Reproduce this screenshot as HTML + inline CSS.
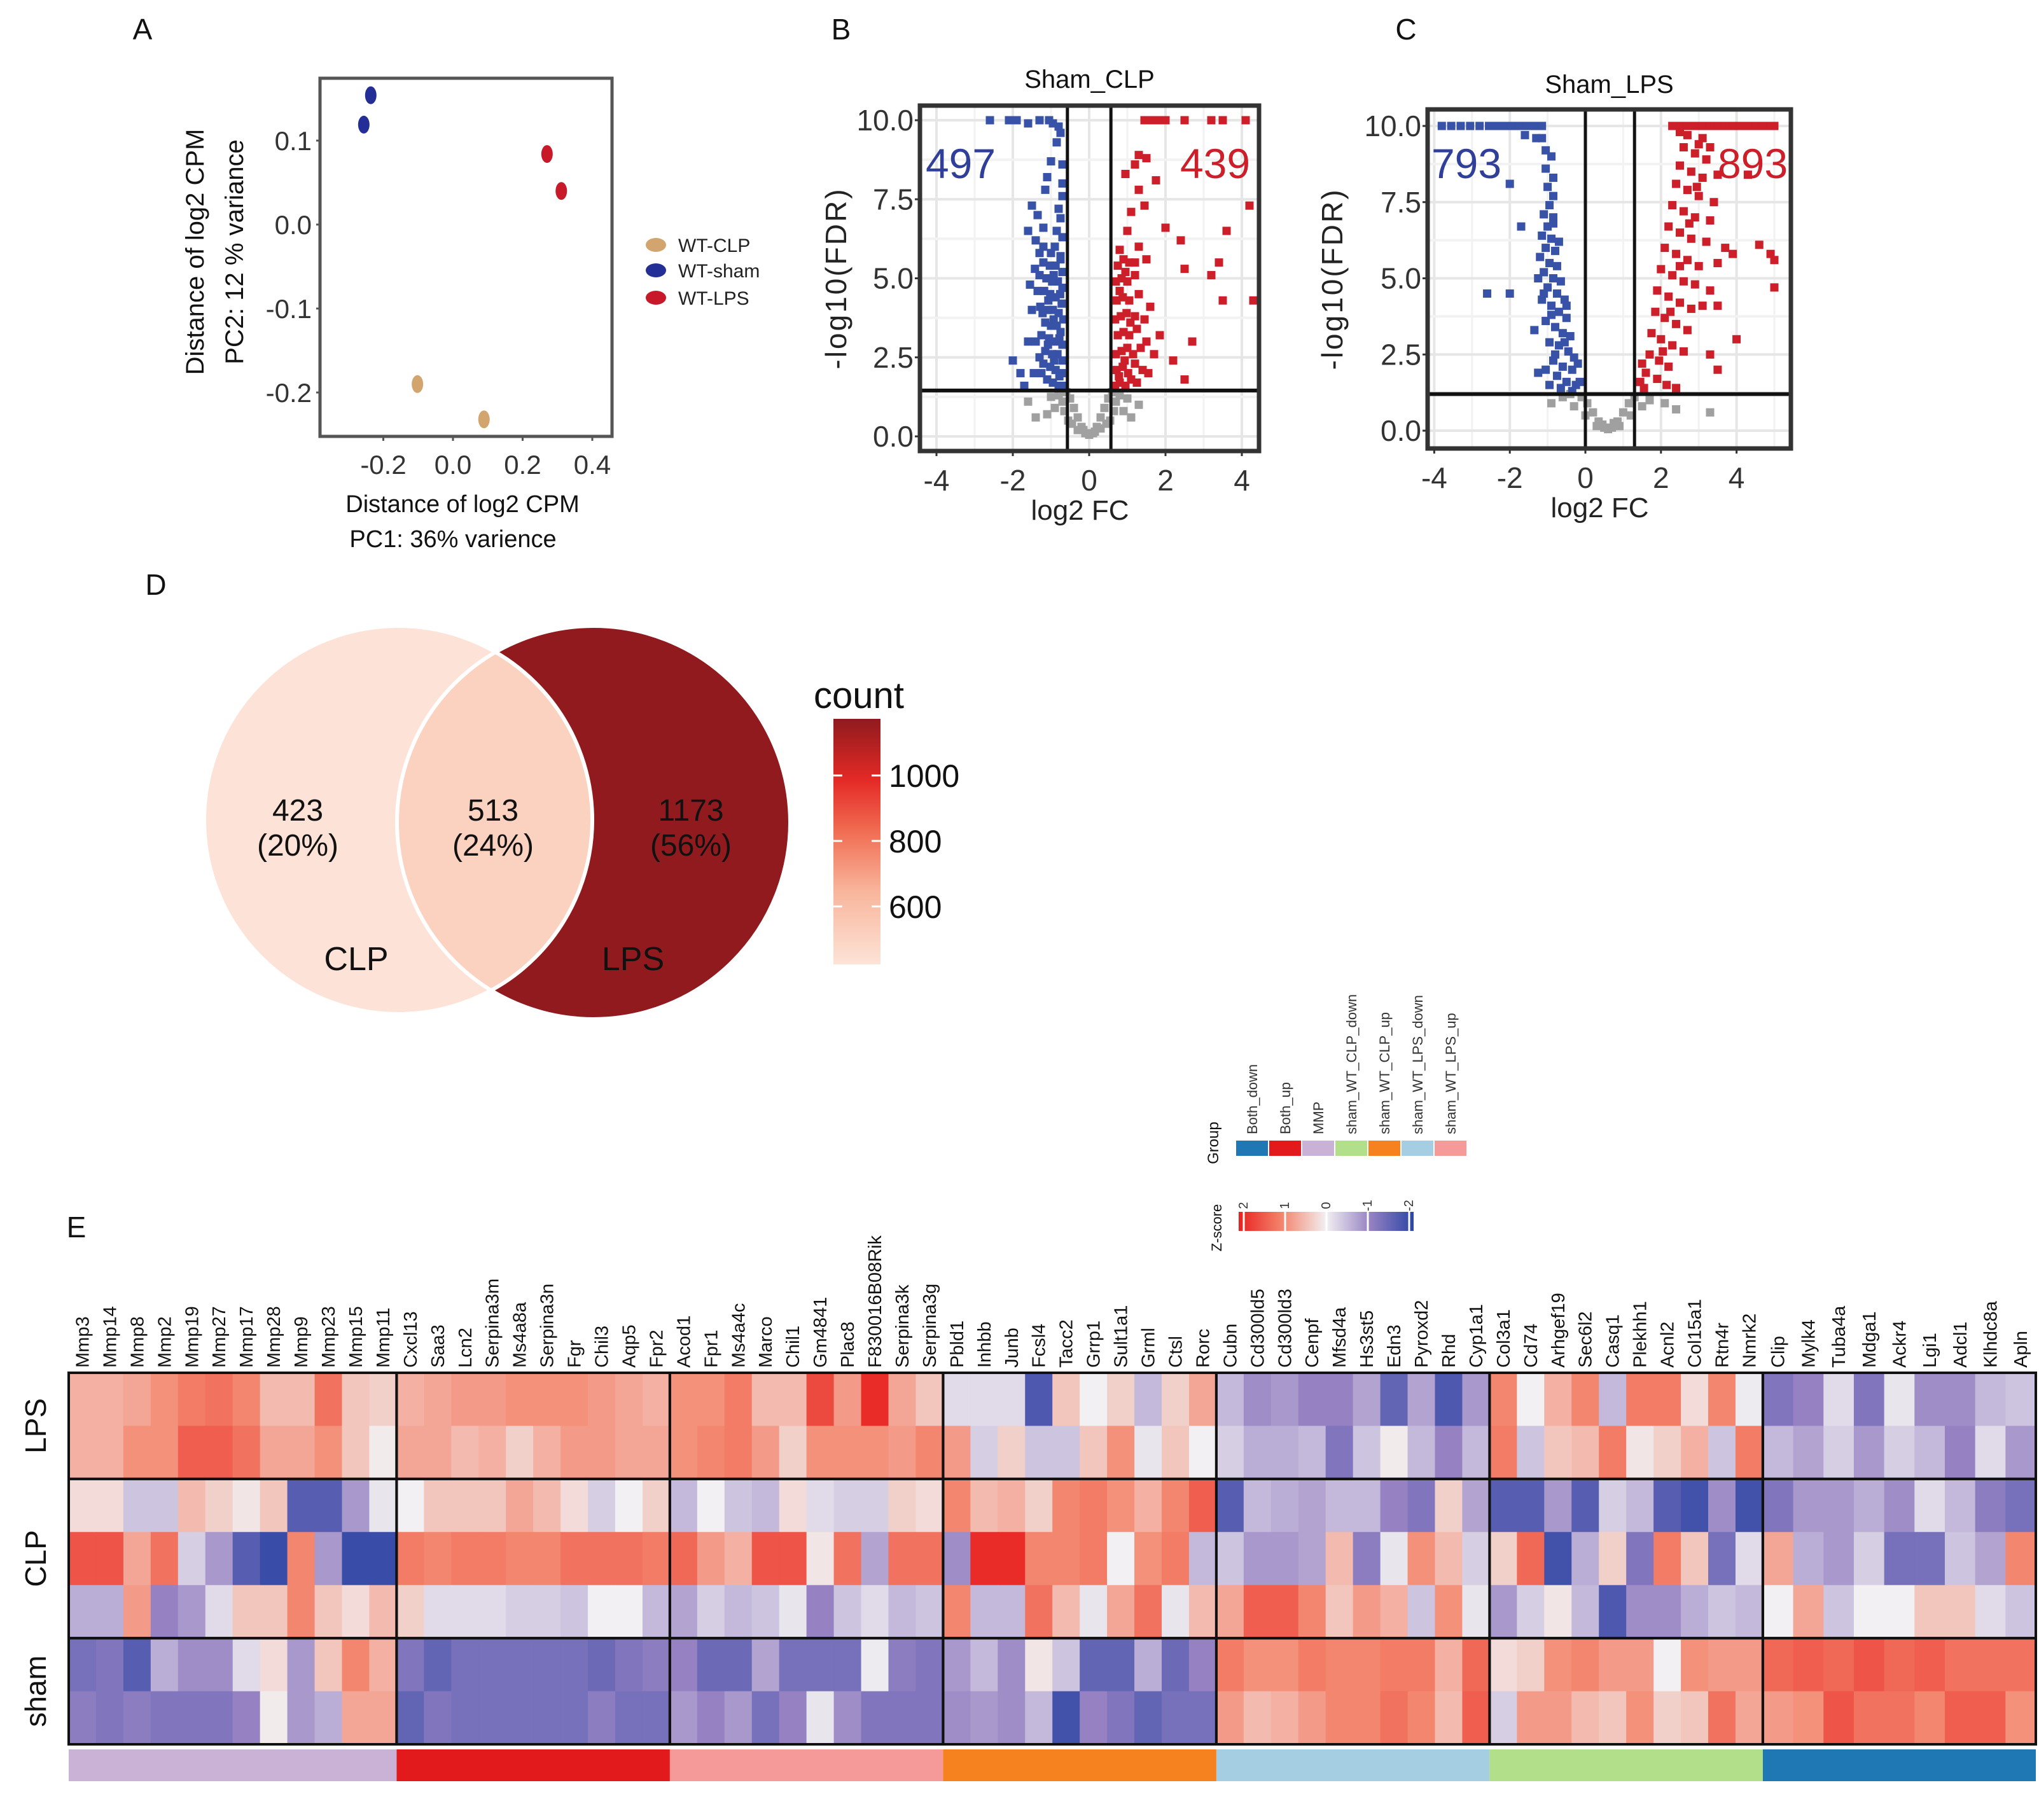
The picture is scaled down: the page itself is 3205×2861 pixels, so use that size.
<!DOCTYPE html>
<html><head><meta charset="utf-8"><style>
html,body{margin:0;padding:0;background:#fff;}
svg{display:block;font-family:"Liberation Sans",sans-serif;}
</style></head><body>
<svg id="fig" width="3205" height="2861" viewBox="0 0 3205 2861" xmlns="http://www.w3.org/2000/svg">
<defs>
<linearGradient id="countGrad" x1="0" y1="1" x2="0" y2="0">
<stop offset="0" stop-color="#fde3d7"/><stop offset="0.3" stop-color="#f8b59b"/><stop offset="0.55" stop-color="#f06a50"/><stop offset="0.75" stop-color="#e42a26"/><stop offset="1" stop-color="#901a1e"/>
</linearGradient>
<linearGradient id="zGrad" x1="0" y1="0" x2="1" y2="0">
<stop offset="0" stop-color="#e8221f"/><stop offset="0.25" stop-color="#f3866e"/><stop offset="0.5" stop-color="#f2f0f2"/><stop offset="0.75" stop-color="#9682c3"/><stop offset="1" stop-color="#2d46a5"/>
</linearGradient>
<clipPath id="clipLeft"><circle cx="626" cy="1289" r="305"/></clipPath>
</defs>
<g id="root"></g>
</svg>
<script>
// ---------- Panel A data ----------
const pcaGroups = ["WT-CLP","WT-sham","WT-LPS"];
const pcaColors = ["#d2a56e","#232e96","#c8192a"];
const pcaPC1 = [-0.102, 0.089, -0.236, -0.256, 0.270, 0.311];
const pcaPC2 = [-0.190, -0.232, 0.154, 0.119, 0.084, 0.040];
const pcaGroupOf = [0,0,1,1,2,2];
const pcaXTicks = [-0.2, 0.0, 0.2, 0.4];
const pcaYTicks = [0.1, 0.0, -0.1, -0.2];

// ---------- Panel B data ----------
const volBDown = [[-2.6,10],[-2.1,10],[-1.9,10],[-1.6,9.9],[-1.3,10],[-1.05,10],[-0.95,9.9],[-0.8,9.8],[-0.75,9.6],[-0.85,9.3],
[-1.0,8.7],[-0.7,8.6],[-1.1,8.2],[-0.7,8.0],[-1.15,7.8],[-0.7,7.6],[-1.5,7.3],[-0.8,7.2],[-1.35,7.0],[-0.75,6.9],[-1.6,6.5],[-1.2,6.6],[-0.85,6.5],[-0.7,6.3],[-1.4,6.2],[-1.2,6.0],[-0.9,6.0],[-1.3,5.8],[-1.0,5.8],[-0.75,5.7],
[-0.68,1.6],[-0.8,1.6],[-0.95,1.7],[-1.1,1.8],[-0.72,2.0],[-0.88,2.1],[-1.02,2.2],[-1.2,2.3],[-0.7,2.4],[-0.83,2.6],[-0.97,2.6],[-1.15,2.7],[-1.3,2.5],[-0.7,2.9],[-0.9,3.0],[-1.05,3.1],[-1.25,3.2],[-0.75,3.3],[-0.85,3.5],[-1.0,3.5],[-1.15,3.6],[-0.68,3.7],[-0.8,3.9],[-0.95,4.0],[-1.1,4.0],[-1.28,4.1],[-0.72,4.2],[-0.88,4.4],[-1.02,4.5],[-1.18,4.6],[-0.7,4.7],[-0.82,4.9],[-0.97,4.9],[-1.12,5.0],[-1.3,5.1],[-0.7,5.2],[-0.88,5.4],[-1.03,5.4],[-1.2,5.5],[-0.75,5.6],[-1.4,3.0],[-1.45,2.0],[-1.5,4.0],[-1.42,5.3],[-0.78,1.9],[-0.92,2.4],[-1.08,2.9],[-0.78,3.1],[-0.93,3.7],[-1.07,4.3],[-0.76,4.5],[-0.93,5.1],[-1.22,3.9],[-1.35,4.6],[-1.25,2.0],
[-2.0,2.4],[-1.8,2.0],[-1.7,1.6],[-1.6,3.0],[-1.55,4.8]];
const volBUp = [[1.45,10],[1.6,10],[1.75,10],[1.9,10],[2.0,10],[2.5,10],[3.2,10],[3.5,10],[4.1,10],
[1.3,8.9],[1.5,8.8],[1.2,8.6],[0.95,8.3],[1.75,8.1],[1.3,7.8],[1.45,7.3],[1.1,7.1],[4.2,7.3],[1.0,6.5],[2.0,6.6],[3.6,6.5],[2.4,6.2],[1.3,6.0],[0.8,5.9],[1.5,5.6],[3.4,5.5],[2.5,5.3],[3.2,5.1],[1.2,5.5],[3.5,4.3],[4.3,4.3],[2.7,3.0],[2.2,2.4],[2.5,1.8],
[0.68,1.6],[0.8,1.7],[0.95,1.6],[1.1,1.8],[1.25,1.7],[0.72,2.1],[0.88,2.2],[1.02,2.0],[1.2,2.3],[1.4,2.1],[0.7,2.6],[0.85,2.7],[1.0,2.8],[1.15,2.6],[1.35,2.8],[0.75,3.2],[0.9,3.3],[1.05,3.2],[1.25,3.4],[1.5,3.0],[0.68,3.7],[0.83,3.8],[0.98,3.9],[1.2,3.8],[1.45,3.7],[0.72,4.3],[0.88,4.4],[1.05,4.3],[1.3,4.5],[0.7,4.9],[0.85,5.0],[1.0,4.9],[1.2,5.1],[0.75,5.4],[0.9,5.6],[1.05,5.5],[1.6,4.1],[1.7,2.6],[1.55,2.0],[1.85,3.2],[0.78,1.9],[0.93,2.4],[1.08,3.6],[0.8,4.6],[0.95,5.2]];
const volBNs = [[-0.1,0.1],[0,0.05],[0.1,0.1],[-0.2,0.3],[0.2,0.3],[-0.3,0.6],[0.3,0.6],[-0.4,0.9],[0.4,0.9],[-0.5,1.2],[0.5,1.2],[-0.6,1.4],[0.6,1.4],[-0.7,1.1],[0.7,1.1],[-0.9,0.9],[0.9,0.8],[-1.1,0.7],[1.1,0.6],[-1.4,0.6],[-0.3,0.2],[0.3,0.25],[-0.55,0.5],[0.55,0.5],[-0.8,1.3],[0.8,1.3],[-1.0,1.25],[1.0,1.2],[-0.15,0.2],[0.15,0.15],[-1.6,1.1],[1.3,1.0],[-0.45,0.4],[0.45,0.4],[-0.65,0.8],[0.65,0.8]];
const volBXTicks = [-4,-2,0,2,4];
const volBYTicks = [0,2.5,5,7.5,10];
const volBCut = {fcLow:-0.57, fcHigh:0.57, fdr:1.45};

// ---------- Panel C data ----------
const volCDown = [[-3.8,10],[-3.55,10],[-3.3,10],[-3.05,10],[-2.8,10],[-2.55,10],[-2.35,10],[-2.15,10],[-1.95,10],[-1.75,10],[-1.55,10],[-1.35,10],[-1.15,10],[-1.6,9.7],[-1.3,9.6],[-1.15,9.6],
[-1.05,9.2],[-0.9,9.0],[-1.05,8.6],[-0.85,8.3],[-1.0,8.0],[-0.85,7.7],[-0.95,7.4],[-1.1,7.1],[-0.85,7.0],[-1.0,6.7],[-1.15,6.4],[-0.9,6.3],[-1.05,6.0],[-0.8,5.9],[-1.2,5.7],[-0.95,5.5],[-0.75,5.4],[-1.1,5.2],[-0.85,5.0],[-0.65,4.9],[-1.0,4.7],[-0.75,4.5],[-1.15,4.3],[-0.55,4.3],[-0.9,4.1],[-0.7,3.9],[-0.5,3.7],[-1.05,3.6],[-0.8,3.4],[-0.6,3.2],[-0.4,3.1],[-0.95,2.9],[-0.7,2.8],[-0.45,2.6],[-0.3,2.4],[-0.85,2.3],[-0.6,2.1],[-0.35,2.0],[-1.05,2.0],[-0.75,1.8],[-0.5,1.6],[-0.25,1.5],[-0.95,1.5],[-0.65,1.4],[-0.35,1.3],[-0.9,3.8],[-0.55,2.9],[-0.8,2.5],[-0.5,4.1],[-1.1,4.5],[-0.7,6.2],[-0.85,6.8],[-1.25,5.0],[-0.15,1.6],[-0.2,2.2],
[-2.0,8.1],[-1.7,6.7],[-2.6,4.5],[-2.0,4.5],[-1.35,3.3],[-1.25,1.9]];
const volCUp = [[2.3,10],[2.5,10],[2.7,10],[2.9,10],[3.1,10],[3.3,10],[3.5,10],[3.7,10],[3.9,10],[4.1,10],[4.3,10],[4.5,10],[4.7,10],[4.9,10],[5.0,10],[2.5,9.8],[2.7,9.7],[3.1,9.6],
[2.6,9.3],[2.9,9.1],[3.2,8.9],[2.5,8.7],[2.8,8.5],[3.1,8.3],[3.5,8.4],[2.4,8.1],[2.7,7.9],[3.0,7.7],[3.4,7.5],[2.3,7.4],[2.6,7.2],[2.9,7.0],[3.3,6.9],[2.2,6.7],[2.5,6.5],[2.8,6.3],[3.2,6.2],[3.7,6.0],[2.1,6.0],[2.4,5.8],[2.7,5.6],[3.0,5.4],[3.5,5.5],[2.0,5.3],[2.3,5.1],[2.6,4.9],[2.9,4.8],[3.3,4.6],[1.9,4.6],[2.2,4.4],[2.5,4.2],[2.8,4.0],[3.1,4.1],[1.85,3.9],[2.1,3.7],[2.4,3.5],[2.7,3.3],[1.75,3.2],[2.0,3.0],[2.3,2.8],[2.6,2.6],[1.7,2.5],[1.95,2.3],[2.2,2.1],[1.6,1.9],[1.9,1.7],[2.15,1.5],[1.55,1.4],[2.4,1.4],[2.05,2.6],[2.25,3.9],[2.5,5.4],[2.75,6.8],[2.95,8.0],[1.45,1.6],[1.5,2.2],
[3.9,5.8],[4.3,8.4],[4.6,6.1],[4.9,5.8],[5.0,5.6],[5.0,4.7],[3.5,4.1],[4.0,3.0],[3.3,2.5],[3.5,2.0],[3.0,9.4],[3.3,9.3]];
const volCNs = [[0.5,0.1],[0.6,0.05],[0.7,0.1],[0.35,0.3],[0.85,0.3],[0.2,0.6],[1.0,0.6],[0.05,0.9],[1.15,0.9],[-0.1,1.1],[1.3,1.1],[-0.3,0.8],[1.5,0.8],[-0.6,1.1],[1.7,1.0],[0.3,0.15],[0.9,0.15],[0.0,0.5],[1.2,0.5],[-0.4,1.2],[2.1,0.9],[2.4,0.7],[-0.9,0.9],[0.75,0.25],[0.45,0.2],[3.3,0.6]];
const volCXTicks = [-4,-2,0,2,4];
const volCYTicks = [0,2.5,5,7.5,10];
const volCCut = {fcLow:0, fcHigh:1.3, fdr:1.2};

// ---------- Panel D data ----------
const vennNames = ["CLP","LPS"];
const vennCounts = [423, 513, 1173];
const vennPercents = ["(20%)","(24%)","(56%)"];
const countTicks = [600, 800, 1000];

// ---------- Panel E data ----------
const genes = ["Mmp3","Mmp14","Mmp8","Mmp2","Mmp19","Mmp27","Mmp17","Mmp28","Mmp9","Mmp23","Mmp15","Mmp11",
"Cxcl13","Saa3","Lcn2","Serpina3m","Ms4a8a","Serpina3n","Fgr","Chil3","Aqp5","Fpr2",
"Acod1","Fpr1","Ms4a4c","Marco","Chil1","Gm4841","Plac8","F830016B08Rik","Serpina3k","Serpina3g",
"Pbld1","Inhbb","Junb","Fcsl4","Tacc2","Grrp1","Sult1a1","Grml","Ctsl","Rorc",
"Cubn","Cd300ld5","Cd300ld3","Cenpf","Mfsd4a","Hs3st5","Edn3","Pyroxd2","Rhd","Cyp1a1",
"Col3a1","Cd74","Arhgef19","Sec6l2","Casq1","Plekhh1","Acnl2","Col15a1","Rtn4r","Nmrk2",
"Clip","Mylk4","Tuba4a","Mdga1","Ackr4","Lgi1","Adcl1","Klhdc8a","Apln"];
const geneGroupNames = ["MMP","Both_up","sham_WT_LPS_up","sham_WT_CLP_up","sham_WT_LPS_down","sham_WT_CLP_down","Both_down"];
const geneGroupSizes = [12,10,10,10,10,10,9];
const sampleGroups = ["LPS","CLP","sham"];
const sampleGroupSizes = [2,3,2];
const rowLPS1 = [.6,.6,.7,.9,1.1,1.2,1.0,.5,.5,1.2,.4,.3, .6,.7,.8,.8,.9,.9,.9,.8,.7,.6, .9,.9,1.1,.5,.5,1.6,.8,1.9,.7,.4, -.2,-.2,-.2,-1.7,.4,0,.3,-.5,.3,.7, -.5,-.9,-.8,-1,-1,-.7,-1.5,-.7,-1.7,-.8, 1,0,.6,1,-.5,1.1,1.1,.2,1,-.05, -1.2,-1,-.2,-1.2,-.1,-.9,-.9,-.5,-.4];
const rowLPS2 = [.6,.6,.9,.9,1.4,1.4,1.2,.7,.7,.9,.4,.05, .7,.7,.5,.6,.3,.6,.8,.8,.7,.7, .9,1,1.1,.8,.3,.9,.9,.9,.8,1.0, .8,-.3,.3,-.4,-.4,.4,.9,-.1,.4,0, -.3,-.6,-.6,-.5,-1.2,-.4,.05,-.5,-1,-.5, 1.1,-.4,.4,.5,1.1,.1,.3,.6,-.4,1.1, -.5,-.7,-.3,-.8,-.3,-.5,-1,-.2,-.8];
const rowCLP1 = [.2,.2,-.4,-.4,.5,.3,.1,.4,-1.6,-1.6,-.8,-.1, 0,.4,.4,.4,.7,.5,.2,-.3,0,.3, -.5,0,-.4,-.5,.2,-.2,-.3,-.3,.3,.2, 1.0,.5,.6,.3,1,1.1,.9,.6,1,1.4, -1.6,-.5,-.6,-.7,-.5,-.5,-1,-1.2,.3,-.7, -1.6,-1.6,-.8,-1.6,-.3,-.5,-1.6,-1.8,-.9,-1.8, -1.2,-.8,-.8,-.6,-.9,-.2,-.5,-1.1,-1.3];
const rowCLP2 = [1.5,1.5,.7,1.2,-.3,-.8,-1.6,-1.9,1.0,-.8,-1.9,-1.9, 1.1,1,1.1,1.1,1,1,1.2,1.2,1.2,1.1, 1.3,.8,.6,1.5,1.5,.1,1.2,-.7,1.2,1.2, -.9,1.9,1.9,1,1,1.1,0,.9,1.1,-.5, -.4,-.8,-.8,-.7,.5,-1.1,-.1,.9,.5,-.3, .3,1.3,-1.8,-.6,.3,-1.2,1.1,.4,-1.3,-.2, .7,-.6,-.8,-.3,-1.3,-1.3,-.4,-.7,1];
const rowCLP3 = [-.6,-.6,.8,-1,-.8,-.2,.4,.4,1,.4,.2,.5, .3,-.2,-.2,-.2,-.3,-.3,-.4,0,0,-.5, -.7,-.3,-.5,-.4,-.1,-1,-.4,-.2,-.5,-.4, 1.0,-.5,-.5,1.2,.5,-.1,.7,1.2,-.1,.5, .7,1.4,1.4,1,.4,.8,.6,-.4,.9,-.1, -.8,-.3,.1,-.5,-1.7,-.9,-.9,-.6,-.4,-.5, 0,.7,-.4,0,0,.4,.4,-.2,-.4];
const rowSham1 = [-1.3,-1.2,-1.6,-.6,-.9,-.9,-.2,.2,-.8,.4,1.0,.6, -1.2,-1.5,-1.3,-1.3,-1.3,-1.3,-1.3,-1.4,-1.2,-1.1, -1,-1.4,-1.4,-.7,-1.3,-1.3,-1.3,-.05,-1.1,-1.2, -.8,-.5,-.9,.1,-.4,-1.5,-1.5,-.6,-1.4,-1, 1.1,.9,.9,1.1,1,1,1.1,1.1,.6,1.3, .2,.3,.9,1,.8,.8,0,.9,.8,.8, 1.3,1.4,1.3,1.5,1.3,1.4,1.2,1.2,1.2];
const rowSham2 = [-1.1,-1.2,-1.1,-1.2,-1.2,-1.2,-1,.05,-.8,-.6,.7,.7, -1.5,-1.2,-1.3,-1.3,-1.3,-1.3,-1.3,-1.1,-1.3,-1.3, -.8,-1,-.8,-1.3,-1,-.1,-.9,-1.2,-1.2,-1.2, -.9,-.8,-.9,-.5,-1.8,-1,-1.2,-1.5,-1.3,-1.3, .8,.5,.6,.8,1,1,1.2,1,.5,1.4, -.3,.8,.8,.5,.4,.9,.3,.4,1.2,.7, .8,.9,1.5,1.2,1.2,1,1.4,1.4,.9];
const legendGroups = ["Both_down","Both_up","MMP","sham_WT_CLP_down","sham_WT_CLP_up","sham_WT_LPS_down","sham_WT_LPS_up"];
const zTicks = ["2","1","0","-1","-2"];

// ---------- drawing ----------
const NS = "http://www.w3.org/2000/svg";
const root = document.getElementById('root');
function mk(tag, attrs, parent, text){
  const e = document.createElementNS(NS, tag);
  for (const k in attrs) e.setAttribute(k, attrs[k]);
  if (text !== undefined) e.textContent = text;
  (parent||root).appendChild(e);
  return e;
}
function grp(name){ const g = mk('g', {});   return g; }
function label(txt, x, y, size, name, opts, parent){
  const a = Object.assign({x:x, y:y, 'font-size':size, fill:'#111'}, opts||{});
  const t = mk('text', a, parent, txt);
  
  
  return t;
}
const groupColor = {"Both_down":"#1f78b4","Both_up":"#e31a1c","MMP":"#cab2d6","sham_WT_CLP_down":"#b2df8a","sham_WT_CLP_up":"#f5821f","sham_WT_LPS_down":"#a6cee3","sham_WT_LPS_up":"#f59a99"};

// panel letters
[["A",224,62],["B",1322,62],["C",2210,62],["D",245,935],["E",120,1945]].forEach(p=>{
  label(p[0], p[1], p[2], 46, 'panel-letter-'+p[0].toLowerCase(), {'text-anchor':'middle'});
});

// ===== Panel A =====
(function(){
  const g = grp('pca-plot');
  const ax = x => 712 + x*547.5, ay = y => 353 - y*1320;
  const fr = mk('rect',{x:503,y:123,width:459,height:563,fill:'#fff',stroke:'#555','stroke-width':5}, g);
   
  pcaYTicks.forEach(v=>{
    mk('line',{x1:497,x2:503,y1:ay(v),y2:ay(v),stroke:'#555','stroke-width':3},g);
    label(v.toFixed(1), 490, ay(v)+15, 42, 'pca-y-tick', {'text-anchor':'end',fill:'#333'}, g);
  });
  pcaXTicks.forEach(v=>{
    mk('line',{x1:ax(v),x2:ax(v),y1:686,y2:693,stroke:'#555','stroke-width':3},g);
    label(v.toFixed(1), ax(v), 745, 42, 'pca-x-tick', {'text-anchor':'middle',fill:'#333'}, g);
  });
  for (let i=0;i<pcaPC1.length;i++){
    const e = mk('ellipse',{cx:ax(pcaPC1[i]),cy:ay(pcaPC2[i]),rx:9,ry:14,fill:pcaColors[pcaGroupOf[i]]},g);
     
  }
  label('Distance of log2 CPM', 0, 0, 40, 'pca-y-title', {'text-anchor':'middle',transform:'translate(320,396) rotate(-90)'}, g);
  label('PC2:  12 % variance', 0, 0, 40, 'pca-y-subtitle', {'text-anchor':'middle',transform:'translate(382,396) rotate(-90)'}, g);
  label('Distance of log2 CPM', 727, 805, 38, 'pca-x-title', {'text-anchor':'middle'}, g);
  label('PC1: 36% varience', 712, 860, 38, 'pca-x-subtitle', {'text-anchor':'middle'}, g);
  const lg = grp('pca-legend');
  const ly = [385,425,468];
  pcaGroups.forEach((n,i)=>{
    const d = mk('ellipse',{cx:1031,cy:ly[i],rx:16,ry:11,fill:pcaColors[i]},lg);
     
    label(n, 1066, ly[i]+11, 30, 'pca-legend-entry', {fill:'#222'}, lg);
  });
})();

// ===== Volcano =====
function volcano(cfg){
  const g = grp(cfg.name);
  const sx = x => cfg.x0 + x*cfg.xs, sy = y => cfg.y0 - y*cfg.ys;
  const b = cfg.box;
  const bg = mk('rect',{x:b[0],y:b[1],width:b[2]-b[0],height:b[3]-b[1],fill:'#fff'},g);
   
  for (let v=-5; v<=5; v+=1){
    const X = sx(v); if (X<=b[0]||X>=b[2]) continue;
    mk('line',{x1:X,x2:X,y1:b[1],y2:b[3],stroke:v%2===0?'#e6e6e6':'#f2f2f2','stroke-width':v%2===0?4:3},g);
  }
  for (let v=-1.25; v<=11; v+=1.25){
    const Y = sy(v); if (Y<=b[1]||Y>=b[3]) continue;
    mk('line',{x1:b[0],x2:b[2],y1:Y,y2:Y,stroke:(Math.round(v/1.25)%2===0)?'#e6e6e6':'#f2f2f2','stroke-width':4},g);
  }
  const sz = 13;
  function pts(arr, col, nm){
    arr.forEach(p=>{
      const r = mk('rect',{x:sx(p[0])-sz/2,y:sy(p[1])-sz/2,width:sz,height:sz,fill:col},g);
       
    });
  }
  pts(cfg.ns, '#a0a0a0', cfg.name+'-ns-point');
  pts(cfg.down, '#3752a6', cfg.name+'-down-point');
  pts(cfg.up, '#cc1f2a', cfg.name+'-up-point');
  [cfg.cut.fcLow, cfg.cut.fcHigh].forEach(v=>{
    const l = mk('line',{x1:sx(v),x2:sx(v),y1:b[1],y2:b[3],stroke:'#111','stroke-width':5},g);
     
  });
  const hl = mk('line',{x1:b[0],x2:b[2],y1:sy(cfg.cut.fdr),y2:sy(cfg.cut.fdr),stroke:'#111','stroke-width':6},g);
   
  const fr = mk('rect',{x:b[0],y:b[1],width:b[2]-b[0],height:b[3]-b[1],fill:'none',stroke:'#333','stroke-width':7},g);
   
  cfg.yt.forEach(v=>{
    mk('line',{x1:b[0]-8,x2:b[0],y1:sy(v),y2:sy(v),stroke:'#333','stroke-width':3},g);
    label(v.toFixed(1), b[0]-10, sy(v)+16, 46, cfg.name+'-y-tick', {'text-anchor':'end',fill:'#333'}, g);
  });
  cfg.xt.forEach(v=>{
    mk('line',{x1:sx(v),x2:sx(v),y1:b[3],y2:b[3]+8,stroke:'#333','stroke-width':3},g);
    label(String(v), sx(v), b[3]+62, 46, cfg.name+'-x-tick', {'text-anchor':'middle',fill:'#333'}, g);
  });
  label(cfg.title, (b[0]+b[2])/2, cfg.titleY, 40, cfg.name+'-title', {'text-anchor':'middle'}, g);
  label('log2 FC', (b[0]+b[2])/2-15, b[3]+108, 44, cfg.name+'-x-title', {'text-anchor':'middle',fill:'#222'}, g);
  label('-log10(FDR)', 0, 0, 46, cfg.name+'-y-title', {'text-anchor':'middle','letter-spacing':3,fill:'#222',transform:'translate('+cfg.ytX+','+((b[1]+b[3])/2)+') rotate(-90)'}, g);
  label(String(cfg.nDown), cfg.nDownX, 280, 66, cfg.name+'-down-count', {'text-anchor':'middle',fill:'#2f3f9a'}, g);
  label(String(cfg.nUp), cfg.nUpX, 280, 66, cfg.name+'-up-count', {'text-anchor':'middle',fill:'#cc1f2a'}, g);
}
volcano({name:'volcano-sham-clp', box:[1446,166,1979,709], x0:1712, xs:60, y0:686, ys:49.7,
  down:volBDown, up:volBUp, ns:volBNs, cut:volBCut, xt:volBXTicks, yt:volBYTicks,
  title:'Sham_CLP', titleY:138, ytX:1330, nDown:497, nDownX:1510, nUp:439, nUpX:1910});
volcano({name:'volcano-sham-lps', box:[2244,172,2815,705], x0:2492, xs:59.4, y0:677, ys:47.9,
  down:volCDown, up:volCUp, ns:volCNs, cut:volCCut, xt:volCXTicks, yt:volCYTicks,
  title:'Sham_LPS', titleY:146, ytX:2110, nDown:793, nDownX:2305, nUp:893, nUpX:2755});

// ===== Panel D =====
(function(){
  const g = grp('venn-diagram');
  const minC = 423, maxC = 1173;
  const stops = [[0,[253,227,215]],[0.3,[248,181,155]],[0.55,[240,106,80]],[0.75,[228,42,38]],[1,[144,26,30]]];
  function ccol(v){
    let t = (v-minC)/(maxC-minC); t=Math.max(0,Math.min(1,t));
    for (let i=1;i<stops.length;i++){ if (t<=stops[i][0]){ const a=stops[i-1],b=stops[i]; const f=(t-a[0])/(b[0]-a[0]);
      return 'rgb('+a[1].map((c,k)=>Math.round(c+(b[1][k]-c)*f)).join(',')+')'; } }
    return 'rgb(144,26,30)';
  }
  const c1 = mk('circle',{cx:626,cy:1289,r:305,fill:ccol(vennCounts[0])},g);
   
  const c2 = mk('circle',{cx:933,cy:1293,r:309,fill:ccol(vennCounts[2])},g);
   
  const c3 = mk('circle',{cx:933,cy:1293,r:309,fill:ccol(vennCounts[1]),'clip-path':'url(#clipLeft)'},g);
   
  mk('circle',{cx:626,cy:1289,r:305,fill:'none',stroke:'#fff','stroke-width':6},g);
  mk('circle',{cx:933,cy:1293,r:309,fill:'none',stroke:'#fff','stroke-width':6},g);
  const tx = [468,775,1086];
  vennCounts.forEach((v,i)=>{
    label(String(v), tx[i], 1290, 48, 'venn-count', {'text-anchor':'middle'}, g);
    label(vennPercents[i], tx[i], 1345, 48, 'venn-percent', {'text-anchor':'middle'}, g);
  });
  label(vennNames[0], 560, 1525, 52, 'venn-label-clp', {'text-anchor':'middle'}, g);
  label(vennNames[1], 995, 1525, 52, 'venn-label-lps', {'text-anchor':'middle'}, g);
  const lg = grp('count-legend');
  label('count', 1350, 1113, 58, 'count-legend-title', {'text-anchor':'middle'}, lg);
  const bar = mk('rect',{x:1310,y:1130,width:74,height:386,fill:'url(#countGrad)'},lg);
   
  const by = v => 1516 - (v-minC)/(maxC-minC)*386;
  countTicks.forEach(v=>{
    mk('line',{x1:1310,x2:1324,y1:by(v),y2:by(v),stroke:'#fff','stroke-width':3},lg);
    mk('line',{x1:1370,x2:1384,y1:by(v),y2:by(v),stroke:'#fff','stroke-width':3},lg);
    label(String(v), 1397, by(v)+18, 50, 'count-legend-tick', {}, lg);
  });
})();

// ===== Panel E heatmap =====
(function(){
  const g = grp('heatmap');
  const rows = [rowLPS1,rowLPS2,rowCLP1,rowCLP2,rowCLP3,rowSham1,rowSham2];
  const X0 = 108, top = 2158, bottom = 2742;
  const nMain = genes.length - geneGroupSizes[geneGroupSizes.length-1];
  const cwMain = 42.95, rightEdge = 3200;
  const cwLast = (rightEdge - (X0 + nMain*cwMain)) / geneGroupSizes[geneGroupSizes.length-1];
  const colX = i => i < nMain ? X0 + i*cwMain : X0 + nMain*cwMain + (i-nMain)*cwLast;
  const colW = i => i < nMain ? cwMain : cwLast;
  const rh = (bottom-top)/rows.length;
  const zs = [[2,[232,34,31]],[1,[243,134,110]],[0,[242,240,242]],[-1,[150,130,195]],[-2,[45,70,165]]];
  function zcol(v){
    v = Math.max(-2,Math.min(2,v));
    for (let i=1;i<zs.length;i++){ if (v>=zs[i][0]){ const a=zs[i-1],b=zs[i]; const f=(a[0]-v)/(a[0]-b[0]);
      return 'rgb('+a[1].map((c,k)=>Math.round(c+(b[1][k]-c)*f)).join(',')+')'; } }
    return 'rgb(45,70,165)';
  }
  rows.forEach((row,r)=>{
    row.forEach((v,c)=>{
      const cell = mk('rect',{x:colX(c),y:top+r*rh,width:colW(c)+0.6,height:rh+0.6,fill:zcol(v)},g);
       
    });
  });
  let rs = 0;
  sampleGroupSizes.forEach((rn,ri)=>{
    let cs = 0;
    geneGroupSizes.forEach((cn,ci)=>{
      const bx = colX(cs), bw = colX(cs+cn-1)+colW(cs+cn-1)-bx;
      const bl = mk('rect',{x:bx,y:top+rs*rh,width:bw,height:rn*rh,fill:'none',stroke:'#111','stroke-width':4},g);
       
      cs += cn;
    });
    label(sampleGroups[ri], 0, 0, 46, 'heatmap-row-label-'+sampleGroups[ri].toLowerCase(), {'text-anchor':'middle',transform:'translate(72,'+(top+(rs+rn/2)*rh)+') rotate(-90)'}, g);
    rs += rn;
  });
  genes.forEach((n,i)=>{
    label(n, 0, 0, 29, 'gene-label', {transform:'translate('+(colX(i)+colW(i)/2+10)+',2150) rotate(-90)',fill:'#111'}, g);
  });
  let cs = 0;
  geneGroupNames.forEach((n,gi)=>{
    const cn = geneGroupSizes[gi];
    const bx = colX(cs), bw = colX(cs+cn-1)+colW(cs+cn-1)-bx;
    const a = mk('rect',{x:bx,y:2750,width:bw,height:50,fill:groupColor[n]},g);
     
    cs += cn;
  });
  const lg = grp('group-legend');
  label('Group', 0, 0, 24, 'group-legend-title', {transform:'translate(1915,1830) rotate(-90)'}, lg);
  legendGroups.forEach((n,i)=>{
    const x = 1943 + i*52;
    const s = mk('rect',{x:x,y:1793,width:50,height:24,fill:groupColor[n]},lg);
     
    label(n, 0, 0, 22, 'group-legend-entry', {transform:'translate('+(x+33)+',1783) rotate(-90)',fill:'#333'}, lg);
  });
  const zl = grp('zscore-legend');
  label('Z-score', 0, 0, 22, 'zscore-legend-title', {'text-anchor':'middle',transform:'translate(1920,1930) rotate(-90)'}, zl);
  const zb = mk('rect',{x:1947,y:1905,width:275,height:30,fill:'url(#zGrad)'},zl);
   
  zTicks.forEach((t,i)=>{
    const x = 1955 + i*65;
    mk('line',{x1:x,x2:x,y1:1905,y2:1935,stroke:'#fff','stroke-width':3},zl);
    label(t, 0, 0, 20, 'zscore-legend-tick', {'text-anchor':'middle',transform:'translate('+(x+6)+',1895) rotate(-90)',fill:'#333'}, zl);
  });
})();
</script>
</body></html>
